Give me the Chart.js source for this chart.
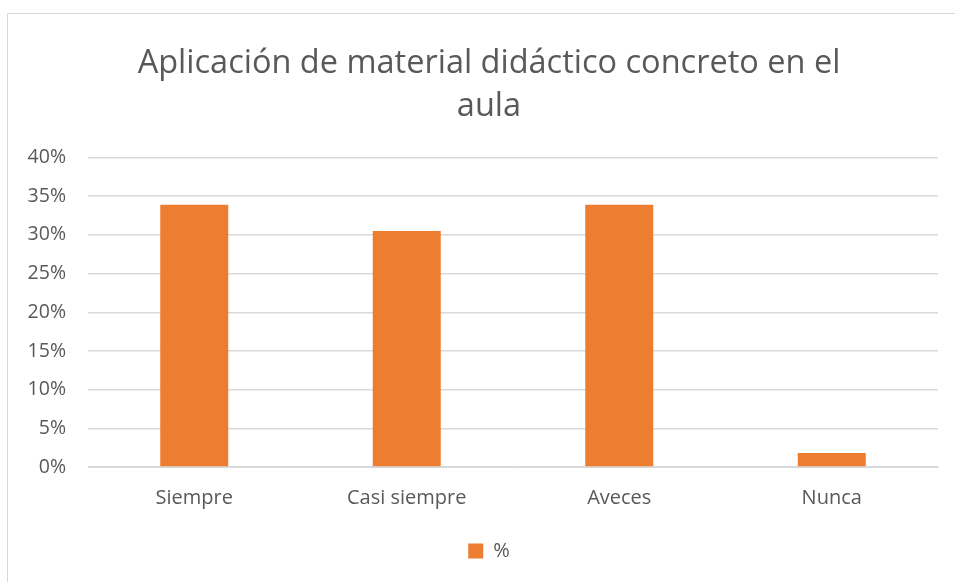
<!DOCTYPE html>
<html>
<head>
<meta charset="utf-8">
<script src="https://cdn.jsdelivr.net/npm/chart.js@4.4.1/dist/chart.umd.min.js"></script>
<style>
  html, body { margin: 0; padding: 0; background: #fff; }
  #wrap { position: relative; width: 955px; height: 582px; overflow: hidden; }
  #frame { position: absolute; left: 7px; top: 13px; width: 1000px; height: 1000px; border: 1px solid #d9d9d9; box-sizing: border-box; }
  canvas { position: absolute; left: 0; top: 0; }
</style>
</head>
<body>
<div id="wrap">
  <div id="frame"></div>
  <canvas id="chart" width="955" height="582"></canvas>
</div>
<script>
const categories = ['Siempre', 'Casi siempre', 'Aveces', 'Nunca'];
const percentValues = [33.9, 30.5, 33.9, 1.8];
const seriesName = '%';
const chartTitle = ['Aplicación de material didáctico concreto en el', 'aula'];

const textColor = '#595959';
const gridColor = '#d9d9d9';
const fontFamily = '"Open Sans", sans-serif';

const ctx = document.getElementById('chart').getContext('2d');

// the y axis is kept narrow so title and legend sit centred; let its labels spill left
const widenTickArea = {
  id: 'widenTickArea',
  afterLayout(chart) { chart.scales.y.left = 0; }
};

new Chart(ctx, {
  type: 'bar',
  data: {
    labels: categories,
    datasets: [{
      label: seriesName,
      data: percentValues,
      backgroundColor: '#ed7d31',
      categoryPercentage: 0.64,
      barPercentage: 0.5
    }]
  },
  options: {
    responsive: false,
    animation: false,
    layout: { padding: { top: 43, right: 17, bottom: 11, left: 40 } },
    plugins: {
      title: {
        display: true,
        text: chartTitle,
        color: textColor,
        font: { family: fontFamily, size: 32.5, weight: 'normal', lineHeight: 1.3 },
        padding: { top: 0, bottom: 30 }
      },
      legend: {
        position: 'bottom',
        labels: {
          color: textColor,
          font: { family: fontFamily, size: 20 },
          boxWidth: 15,
          boxHeight: 15,
          padding: 20
        }
      },
      tooltip: { enabled: false }
    },
    scales: {
      x: {
        grid: { display: false },
        border: { color: gridColor },
        ticks: { color: textColor, font: { family: fontFamily, size: 20 }, padding: 11 }
      },
      y: {
        min: 0,
        max: 40,
        afterFit: (scale) => { scale.width = 48; },
        border: { display: false },
        grid: { color: gridColor, drawTicks: false, lineWidth: 1.5 },
        ticks: {
          stepSize: 5,
          padding: 22,
          color: textColor,
          font: { family: fontFamily, size: 19.5 },
          callback: (v) => v + '%'
        }
      }
    }
  },
  plugins: [widenTickArea]
});
</script>
</body>
</html>
